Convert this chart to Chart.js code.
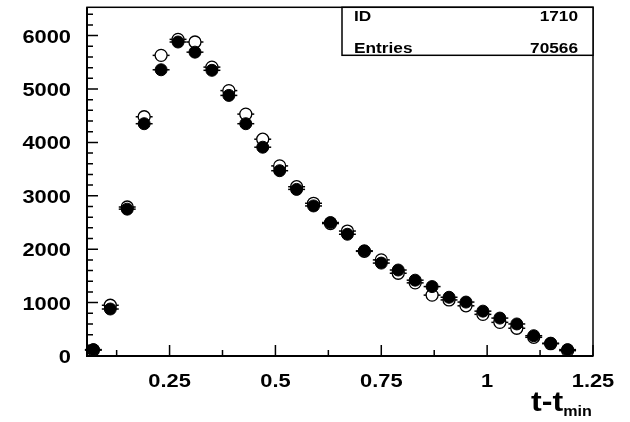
<!DOCTYPE html>
<html>
<head>
<meta charset="utf-8">
<script src="https://cdn.jsdelivr.net/npm/chart.js@4"></script>
<style>
  html, body { margin: 0; padding: 0; background: #fff; }
  #wrap { width: 630px; height: 422px; }
</style>
</head>
<body>
<div id="wrap"><canvas id="histChart" width="630" height="422"></canvas></div>
<script>
// bin centres (t - t_min) and contents of the two histograms
const binCentres = [0.07, 0.11, 0.15, 0.19, 0.23, 0.27, 0.31, 0.35, 0.39, 0.43,
                    0.47, 0.51, 0.55, 0.59, 0.63, 0.67, 0.71, 0.75, 0.79, 0.83,
                    0.87, 0.91, 0.95, 0.99, 1.03, 1.07, 1.11, 1.15, 1.19];
const filledCounts = [120, 880, 2750, 4350, 5360, 5880, 5690, 5350, 4880, 4350,
                      3910, 3470, 3120, 2810, 2500, 2280, 1970, 1740, 1610, 1420,
                      1300, 1100, 1010, 840, 710, 600, 380, 240, 120];
const openCounts = [110, 950, 2790, 4480, 5630, 5930, 5880, 5410, 4970, 4530,
                    4060, 3560, 3170, 2860, 2480, 2340, 1960, 1800, 1550, 1370,
                    1140, 1050, 940, 780, 630, 520, 350, 230, 100];
const binHalfWidth = 0.02;

const xTickValues = [0.25, 0.5, 0.75, 1, 1.25];
const xTickLabels = ['0.25', '0.5', '0.75', '1', '1.25'];
const xMinorTicks = [0.125, 0.375, 0.625, 0.875, 1.125];
const yTickValues = [0, 1000, 2000, 3000, 4000, 5000, 6000];
const yTickLabels = ['0', '1000', '2000', '3000', '4000', '5000', '6000'];
const yMinorTicks = [200, 400, 600, 800, 1200, 1400, 1600, 1800, 2200, 2400, 2600, 2800,
                     3200, 3400, 3600, 3800, 4200, 4400, 4600, 4800, 5200, 5400, 5600, 5800,
                     6200, 6400];

const statsLabels = ['ID', 'Entries'];
const statsValues = ['1710', '70566'];

const FONT = 'Liberation Sans, Arial, Helvetica, sans-serif';
const STRETCH = 1.15;   // the original lettering is a little wide

function toPoints(counts) {
    return counts.map((c, i) => ({ x: binCentres[i], y: c }));
}

// text drawn a bit wider than the font, like the original
function wideText(ctx, text, x, y, align, size) {
    ctx.save();
    ctx.font = 'bold ' + size + 'px ' + FONT;
    ctx.textAlign = align;
    ctx.textBaseline = 'alphabetic';
    ctx.scale(STRETCH, 1);
    ctx.fillText(text, x / STRETCH, y);
    const w = ctx.measureText(text).width * STRETCH;
    ctx.restore();
    return w;
}

// frame, inward ticks, labels, error bars, stats box and axis title
const decorations = {
    id: 'decorations',
    beforeDatasetsDraw(chart) {
        const { ctx, scales: { x, y } } = chart;
        ctx.save();
        ctx.strokeStyle = '#000';
        ctx.lineWidth = 1.5;
        [openCounts, filledCounts].forEach(counts => {
            counts.forEach((c, i) => {
                const x1 = x.getPixelForValue(binCentres[i] - binHalfWidth);
                const x2 = x.getPixelForValue(binCentres[i] + binHalfWidth);
                const py = y.getPixelForValue(c);
                ctx.beginPath();
                ctx.moveTo(x1, py);
                ctx.lineTo(x2, py);
                ctx.stroke();
            });
        });
        ctx.restore();
    },
    afterDraw(chart) {
        const { ctx, chartArea: a, scales: { x, y } } = chart;
        ctx.save();
        ctx.strokeStyle = '#000';
        ctx.fillStyle = '#000';

        // frame
        ctx.lineWidth = 1.5;
        ctx.strokeRect(a.left, a.top, a.right - a.left, a.bottom - a.top);
        ctx.lineWidth = 2;
        ctx.beginPath();
        ctx.moveTo(a.left, a.top);
        ctx.lineTo(a.left, a.bottom);
        ctx.lineTo(a.right, a.bottom);
        ctx.stroke();

        // ticks pointing into the plot
        ctx.lineWidth = 1.5;
        ctx.beginPath();
        xTickValues.forEach(v => {
            const px = x.getPixelForValue(v);
            ctx.moveTo(px, a.bottom);
            ctx.lineTo(px, a.bottom - 11);
        });
        xMinorTicks.forEach(v => {
            const px = x.getPixelForValue(v);
            ctx.moveTo(px, a.bottom);
            ctx.lineTo(px, a.bottom - 6);
        });
        yTickValues.forEach(v => {
            const py = y.getPixelForValue(v);
            ctx.moveTo(a.left, py);
            ctx.lineTo(a.left + 11, py);
        });
        yMinorTicks.forEach(v => {
            const py = y.getPixelForValue(v);
            ctx.moveTo(a.left, py);
            ctx.lineTo(a.left + 6, py);
        });
        ctx.stroke();

        // tick labels
        xTickValues.forEach((v, i) => {
            wideText(ctx, xTickLabels[i], x.getPixelForValue(v), a.bottom + 31, 'center', 19);
        });
        yTickValues.forEach((v, i) => {
            wideText(ctx, yTickLabels[i], a.left - 16, y.getPixelForValue(v) + 7, 'right', 19);
        });

        // stats box
        const bx = 342, by = a.top, bw = a.right - 342, bh = 48;
        ctx.fillStyle = '#fff';
        ctx.fillRect(bx, by, bw, bh);
        ctx.lineWidth = 1.5;
        ctx.strokeRect(bx, by, bw, bh);
        ctx.fillStyle = '#000';
        statsLabels.forEach((lab, i) => {
            const base = by + 14 + i * 32;
            wideText(ctx, lab, 354, base, 'left', 15);
            wideText(ctx, statsValues[i], 578, base, 'right', 15);
        });

        // x axis title: t-t_min
        const w = wideText(ctx, 't-t', 531, 411, 'left', 28);
        wideText(ctx, 'min', 531 + w, 416, 'left', 14);
        ctx.restore();
    }
};

const config = {
    type: 'scatter',
    data: {
        datasets: [{
            label: 'filled',
            data: toPoints(filledCounts),
            pointRadius: 6,
            pointBackgroundColor: '#000',
            pointBorderColor: '#000',
            pointBorderWidth: 1
        }, {
            label: 'open',
            data: toPoints(openCounts),
            pointRadius: 6,
            pointBackgroundColor: '#fff',
            pointBorderColor: '#000',
            pointBorderWidth: 1.3
        }]
    },
    options: {
        responsive: false,
        animation: false,
        devicePixelRatio: 1,
        layout: { padding: { top: 7, right: 37, left: 0, bottom: 0 } },
        plugins: {
            legend: { display: false },
            tooltip: { enabled: false }
        },
        scales: {
            x: {
                type: 'linear',
                min: 0.055,
                max: 1.25,
                grid: { display: false, drawTicks: false },
                border: { display: false },
                ticks: { display: false },
                afterFit: s => {
                    s.height = 66;
                    s.paddingLeft = 0;
                    s.paddingRight = 0;
                }
            },
            y: {
                type: 'linear',
                min: 0,
                max: 6530,
                grid: { display: false, drawTicks: false },
                border: { display: false },
                ticks: { display: false },
                afterFit: s => {
                    s.width = 87;
                    s.paddingTop = 0;
                    s.paddingBottom = 0;
                }
            }
        }
    },
    plugins: [decorations]
};

const ctx = document.getElementById('histChart').getContext('2d');
const histChart = new Chart(ctx, config);
</script>
</body>
</html>
